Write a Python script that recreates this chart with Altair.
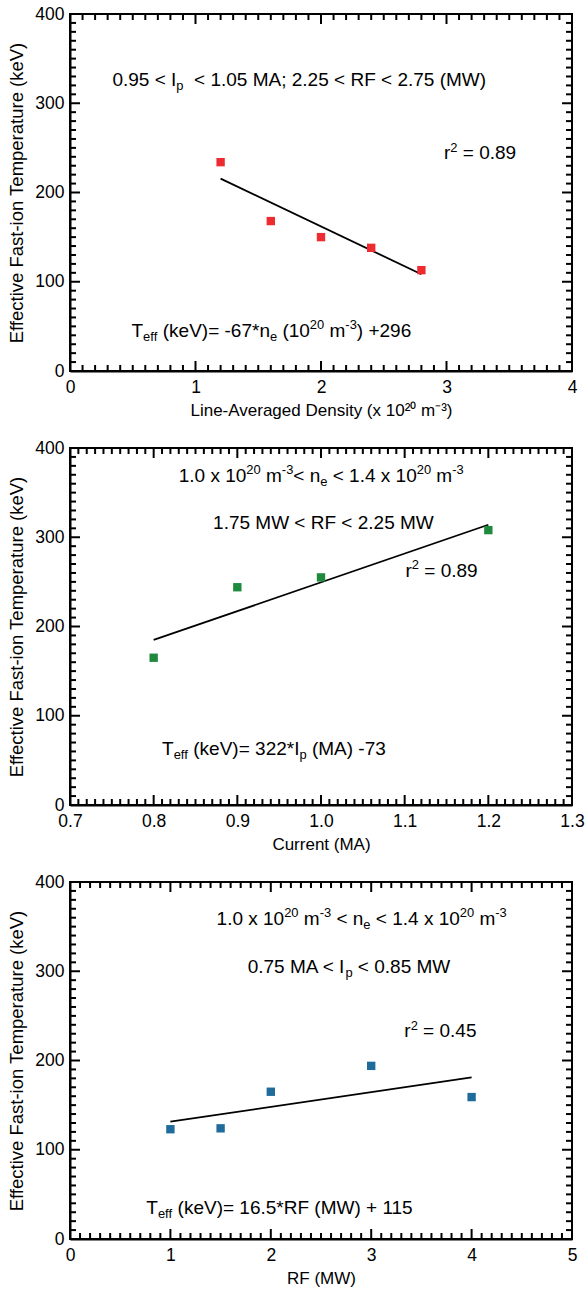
import altair as alt
import pandas as pd

FONT = "Liberation Sans"

# ---------------- data ----------------
p1_x = [1.2, 1.6, 2.0, 2.4, 2.8]
p1_y = [234, 168, 150, 138, 113]
p1_fit_x = [1.2, 2.8]
p1_fit_y = [215.6, 108.4]

p2_x = [0.8, 0.9, 1.0, 1.2]
p2_y = [165, 244, 255, 308]
p2_fit_x = [0.8, 1.2]
p2_fit_y = [185, 314]

p3_x = [1.0, 1.5, 2.0, 3.0, 4.0]
p3_y = [123, 124, 165, 194, 159]
p3_fit_x = [1.0, 4.0]
p3_fit_y = [131.5, 181]

# tick values (major labelled, minor unlabelled)
y_major = [0, 100, 200, 300, 400]
y_minor = [v for v in range(0, 401, 10) if v % 100 != 0]
p1_xmajor = [0, 1, 2, 3, 4]
p1_xminor = [round(i * 0.1, 1) for i in range(41) if i % 10 != 0]
p2_xmajor = [0.7, 0.8, 0.9, 1.0, 1.1, 1.2, 1.3]
p2_xminor = [round(0.7 + i * 0.01, 2) for i in range(61) if i % 10 != 0]
p3_xmajor = [0, 1, 2, 3, 4, 5]
p3_xminor = [round(i * 0.1, 1) for i in range(51) if i % 10 != 0]

Y_TITLE = "Effective Fast-ion Temperature (keV)"
p1_xtitle = "Line-Averaged Density (x 10\u00b2\u2070 m\u207b\u00b3)"
p2_xtitle = "Current (MA)"
p3_xtitle = "RF (MW)"

p1_ann = [
    ([("0.95 < I", "n"), ("p", "sub"), ("  < 1.05 MA; 2.25 < RF < 2.75 (MW)", "n")], 0.338, 319),
    ([("r", "n"), ("2", "sup"), (" = 0.89", "n")], 2.98, 237),
    ([("T", "n"), ("eff", "sub"), (" (keV)= -67*n", "n"), ("e", "sub"), (" (10", "n"),
      ("20", "sup"), (" m", "n"), ("-3", "sup"), (") +296", "n")], 0.49, 38),
]
p2_ann = [
    ([("1.0 x 10", "n"), ("20", "sup"), (" m", "n"), ("-3", "sup"), ("< n", "n"), ("e", "sub"),
      (" < 1.4 x 10", "n"), ("20", "sup"), (" m", "n"), ("-3", "sup")], 0.83, 362),
    ([("1.75 MW < RF < 2.25 MW", "n")], 0.871, 309.5),
    ([("r", "n"), ("2", "sup"), (" = 0.89", "n")], 1.101, 256),
    ([("T", "n"), ("eff", "sub"), (" (keV)= 322*I", "n"), ("p", "sub"), (" (MA) -73", "n")], 0.81, 56),
]
p3_ann = [
    ([("1.0 x 10", "n"), ("20", "sup"), (" m", "n"), ("-3", "sup"), (" < n", "n"), ("e", "sub"),
      (" < 1.4 x 10", "n"), ("20", "sup"), (" m", "n"), ("-3", "sup")], 1.46, 352),
    ([("0.75 MA < I", "n"), ("p", "sub"), (" < 0.85 MW", "n")], 1.77, 298),
    ([("r", "n"), ("2", "sup"), (" = 0.45", "n")], 3.33, 226),
    ([("T", "n"), ("eff", "sub"), (" (keV)= 16.5*RF (MW) + 115", "n")], 0.76, 28),
]

# Arial / Liberation Sans advance widths (per 1000 em)
WID = {' ': 278, '.': 278, '<': 584, '=': 584, '+': 584, '-': 333, '*': 389, '(': 333,
       ')': 333, ';': 278, 'A': 667, 'F': 611, 'I': 278, 'M': 833, 'R': 722, 'T': 611,
       'V': 667, 'W': 944, 'e': 556, 'f': 278, 'k': 500, 'm': 833, 'n': 556, 'p': 556,
       'r': 333, 'x': 500}
for d in "0123456789":
    WID[d] = 556


def tw(s, size):
    return sum(WID.get(c, 556) for c in s) * size / 1000.0


ANN_FS = 19
SMALL = 0.68 * ANN_FS

W = 502
H = 357
MAJ = 10
MIN = 6
TICK_W = 2


def rich(segs, x, y, X, Y):
    layers = []
    off = 0.0
    df = pd.DataFrame({"x": [x], "y": [y]})
    for text, kind in segs:
        size = ANN_FS if kind == "n" else SMALL
        dy = 0 if kind == "n" else (-0.40 * ANN_FS if kind == "sup" else 0.22 * ANN_FS)
        stripped = text.lstrip(" ")
        lead = len(text) - len(stripped)
        dx = off + tw(" " * lead, size)
        layers.append(
            alt.Chart(df).mark_text(
                text=stripped.rstrip(" "), align="left", baseline="alphabetic",
                dx=dx, dy=dy, fontSize=size, font=FONT, color="black"
            ).encode(x=X, y=Y)
        )
        off += tw(text, size)
    return layers


def panel(px, py, fx, fy, color, xdom, xmajor, xminor, xfmt, xtitle, ann):
    xs = alt.Scale(domain=xdom, nice=False, zero=False)
    ys = alt.Scale(domain=[0, 400], nice=False, zero=False)
    common = dict(
        labelFont=FONT, labelFontSize=17.5, labelColor="black",
        titleFont=FONT, titleFontWeight="normal", titleColor="black",
        ticks=False, domain=True, domainColor="black", domainWidth=2, grid=False,
        labelOverlap=False, labelFlush=False, labelBound=False,
    )
    yaxis = alt.Axis(values=y_major, title=Y_TITLE, titleFontSize=18.5, format="d",
                     labelPadding=6, titlePadding=8, **common)
    xaxis = alt.Axis(values=xmajor, title=xtitle, titleFontSize=17, format=xfmt,
                     labelPadding=7, titlePadding=7, **common)
    X = alt.X("x:Q", scale=xs, axis=xaxis)
    Y = alt.Y("y:Q", scale=ys, axis=yaxis)

    fit = alt.Chart(pd.DataFrame({"x": fx, "y": fy})).mark_line(
        color="black", strokeWidth=1.8
    ).encode(x=X, y=Y)
    pts = alt.Chart(pd.DataFrame({"x": px, "y": py})).mark_point(
        shape="square", filled=True, size=70, color=color, opacity=1
    ).encode(x=X, y=Y)
    layers = [fit, pts]

    # inward ticks on all four sides of the box
    for vals, ln in ((y_major, MAJ), (y_minor, MIN)):
        d = pd.DataFrame({"y": vals})
        for a, b in ((0, ln), (W - ln, W)):
            layers.append(alt.Chart(d).mark_rule(color="#000000", strokeWidth=TICK_W, opacity=1).encode(
                x=alt.value(a), x2=alt.value(b), y=Y))
    for vals, ln in ((xmajor, MAJ), (xminor, MIN)):
        d = pd.DataFrame({"x": vals})
        for a, b in ((0, ln), (H - ln, H)):
            layers.append(alt.Chart(d).mark_rule(color="#000000", strokeWidth=TICK_W, opacity=1).encode(
                x=X, y=alt.value(a), y2=alt.value(b)))

    for segs, ax, ay in ann:
        layers += rich(segs, ax, ay, X, Y)
    return alt.layer(*layers).properties(width=W, height=H)


c1 = panel(p1_x, p1_y, p1_fit_x, p1_fit_y, "#ee2b30", [0, 4], p1_xmajor, p1_xminor,
           ".0f", p1_xtitle, p1_ann)
c2 = panel(p2_x, p2_y, p2_fit_x, p2_fit_y, "#1f8a3e", [0.7, 1.3], p2_xmajor, p2_xminor,
           ".1f", p2_xtitle, p2_ann)
c3 = panel(p3_x, p3_y, p3_fit_x, p3_fit_y, "#1f6b9c", [0, 5], p3_xmajor, p3_xminor,
           ".0f", p3_xtitle, p3_ann)

chart = alt.vconcat(c1, c2, c3, spacing=18).properties(
    padding={"left": 6, "top": 4, "right": 0, "bottom": 0}
).configure(font=FONT, background="white").configure_view(stroke="black", strokeWidth=2)

chart.save("out.html", embed_options={"renderer": "svg", "actions": False})
